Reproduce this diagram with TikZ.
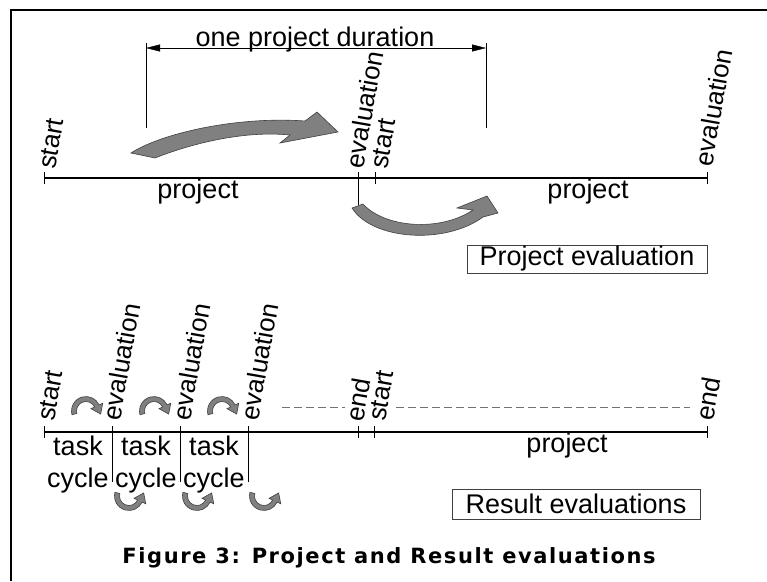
\documentclass[tikz,border=0pt]{standalone}
\usepackage{fontspec}
\setmainfont{Liberation Sans}
\newfontfamily\capfont[LetterSpace=7.5]{DejaVu Sans}
\usetikzlibrary{arrows.meta, calc}

\tikzset{
  lbl/.style={font=\fontsize{27}{32}\selectfont, inner sep=0},
  tlbl/.style={font=\fontsize{26}{30}\selectfont, inner sep=0, rotate=80, anchor=base west},
  axis/.style={line width=1.3},
  bigarrow/.style={fill=black!50, draw=black!75, line width=0.6},
  legend/.style={draw=black!75, line width=0.8, inner sep=0, font=\fontsize{27}{32}\selectfont},
  dashline/.style={black!55, line width=1, dash pattern=on 8pt off 4pt},
  pics/hop/.style={code={
    \filldraw[bigarrow] (165:14.5) arc[start angle=165, end angle=335, radius=14.5]
      -- (335:18.5) -- ($(335:12)+(65:9)$) -- (335:5.5) -- (335:9.5)
      arc[start angle=335, end angle=165, radius=9.5] -- cycle;
  }}
}

\begin{document}
\begin{tikzpicture}[x=1pt, y=-1pt, >=Triangle]
  \useasboundingbox (0,0) rectangle (767,581);

  % frame
  \draw[line width=1.6] (11,581) -- (11,10) -- (767,10);

  % top time line (one project evaluation)
  \coordinate (ts) at (44,178);
  \coordinate (te1) at (358,178);
  \coordinate (ts2) at (375,178);
  \coordinate (te2) at (707,178);
  \coordinate (tl) at (358,205);
  \draw[axis] (ts) -- (te2);
  \foreach \p in {ts,te1,ts2,te2}
    \draw (\p) ++(0,-6) -- ++(0,12);
  \draw (te1) -- (tl);

  \node[tlbl] (tstart) at (55,170) {start};
  \node[tlbl] (teval) at (363,170) {evaluation};
  \node[tlbl] (tstart2) at (387,170) {start};
  \node[tlbl] (teval2) at (712,168) {evaluation};
  \node[lbl, anchor=base] (tproj) at (198,198) {project};
  \node[lbl, anchor=base] (tproj2) at (588,198) {project};

  % project duration
  \coordinate (dl) at (146,48);
  \coordinate (dr) at (486,48);
  \coordinate (dlb) at (146,128);
  \coordinate (drb) at (486,128);
  \draw (dl) ++(0,-5) -- (dlb);
  \draw (dr) ++(0,-5) -- (drb);
  \draw[{Triangle[length=14pt,width=7pt]}-{Triangle[length=14pt,width=7pt]}] (dl) -- (dr);
  \node[lbl, anchor=base] (dur) at (315,46) {one project duration};

  % big arrows
  \filldraw[bigarrow] (131,153) .. controls (160,134) and (235,116) .. (305,121)
    -- (317,112) -- (338,132) -- (280,143) -- (290,135)
    .. controls (240,130) and (185,146) .. (155,158) -- cycle;
  \filldraw[bigarrow] (352,208) .. controls (372,240) and (445,245) .. (483,217)
    -- (498,213) -- (487,196) -- (457,208) -- (473,210)
    .. controls (440,232) and (385,228) .. (363,204) -- cycle;

  \node[legend, minimum width=240, minimum height=28] (pe) at (587,259) {Project evaluation};

  % bottom time line (result evaluations)
  \coordinate (bs) at (44,432);
  \coordinate (be1) at (112,432);
  \coordinate (be2) at (180,432);
  \coordinate (be3) at (248,432);
  \coordinate (bend) at (358,432);
  \coordinate (bs2) at (374,432);
  \coordinate (bend2) at (707,432);
  \draw[axis] (bs) -- (bend2);
  \foreach \p in {bs,be1,be2,be3,bend,bs2,bend2}
    \draw (\p) ++(0,-6) -- ++(0,12);
  \foreach \p in {be1,be2,be3}
    \draw (\p) -- ++(0,50);

  \node[tlbl] (bstart) at (54,422) {start};
  \node[tlbl] (beval1) at (120,422) {evaluation};
  \node[tlbl] (beval2) at (190,422) {evaluation};
  \node[tlbl] (beval3) at (258,422) {evaluation};
  \node[tlbl] (bendl) at (363,423) {end};
  \node[tlbl] (bstart2) at (385,422) {start};
  \node[tlbl] (bendl2) at (713,422) {end};

  \foreach \i/\x in {1/78,2/146,3/214} {
    \node[lbl, anchor=base] (task\i) at (\x,455) {task};
    \node[lbl, anchor=base] (cycle\i) at (\x,487) {cycle};
  }
  \node[lbl, anchor=base] (bproj) at (567,452) {project};

  \draw[dashline] (282,407) -- (345,407);
  \draw[dashline] (396,407) -- (690,407);

  % small arrows
  \foreach \x in {86,154,222}
    \pic at (\x,411) {hop};
  \foreach \x in {129,197,264}
    \pic[yscale=-1] at (\x,496) {hop};

  \node[legend, minimum width=248, minimum height=30] (re) at (576,504) {Result evaluations};

  % caption
  \node[inner sep=0, anchor=base, font=\capfont\bfseries\fontsize{21}{24}\selectfont] (cap) at (389,563)
    {Figure 3: Project and Result evaluations};
\end{tikzpicture}
\end{document}
